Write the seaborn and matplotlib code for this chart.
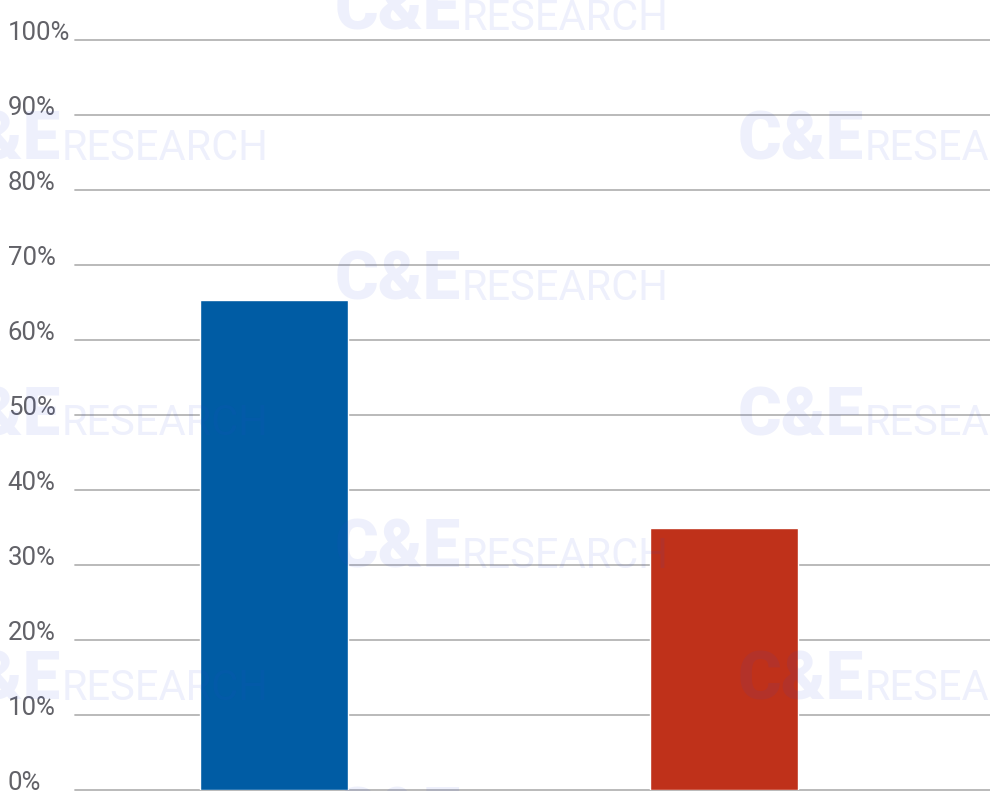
import matplotlib
matplotlib.use("Agg")
import matplotlib.pyplot as plt
import seaborn as sns
import pandas as pd

# data
categorias = ["Opción A", "Opción B"]
valores = [65.3, 35.0]
colores = ["#005ca4", "#bf311a"]
yticks = [0, 10, 20, 30, 40, 50, 60, 70, 80, 90, 100]
ytick_labels = [f"{t}%" for t in yticks]

df = pd.DataFrame({"cat": categorias, "val": valores})

sns.set_style("white")
plt.rcParams["font.family"] = ["Roboto", "DejaVu Sans"]

W, H = 990, 791
fig = plt.figure(figsize=(W / 100, H / 100), dpi=100)
ax = fig.add_axes([75 / W, 1 / H, 915 / W, 750 / H])

sns.barplot(data=df, x="cat", y="val", hue="cat", palette=colores,
            width=0.329, saturation=1, legend=False, ax=ax, zorder=2)

ax.set_ylim(0, 100)
ax.set_xlim(-0.442, 1.591)
ax.set_yticks(yticks)
ax.set_yticklabels(ytick_labels)
ax.yaxis.grid(True, color="#b4b4b4", linewidth=1.3, zorder=0)
ax.set_axisbelow(True)
for ln in ax.get_ygridlines():
    ln.set_clip_on(False)
ax.tick_params(axis="y", length=0, pad=48.5, labelsize=18.5, labelcolor="#626268")
for lbl in ax.get_yticklabels():
    lbl.set_ha("left")
    lbl.set_va("baseline")
ax.set_xticks([])
ax.set_xlabel("")
ax.set_ylabel("")
sns.despine(ax=ax, left=True, bottom=True)

# watermark "C&E RESEARCH"
wm_color = (43 / 255, 68 / 255, 218 / 255)
marcas = [(335, 30), (-65, 160), (738, 160), (335, 300), (-65, 435), (738, 435),
          (335, 568), (-65, 700), (738, 700), (335, 835)]
for x0, yb in marcas:
    fig.text(x0 / W, 1 - yb / H, "C&E", fontsize=48, fontweight="black",
             color=wm_color, alpha=0.08, ha="left", va="baseline", zorder=5)
    fig.text((x0 + 127) / W, 1 - yb / H, "RESEARCH", fontsize=30,
             color=wm_color, alpha=0.08, ha="left", va="baseline", zorder=5)

fig.savefig("out.png", dpi=100)
